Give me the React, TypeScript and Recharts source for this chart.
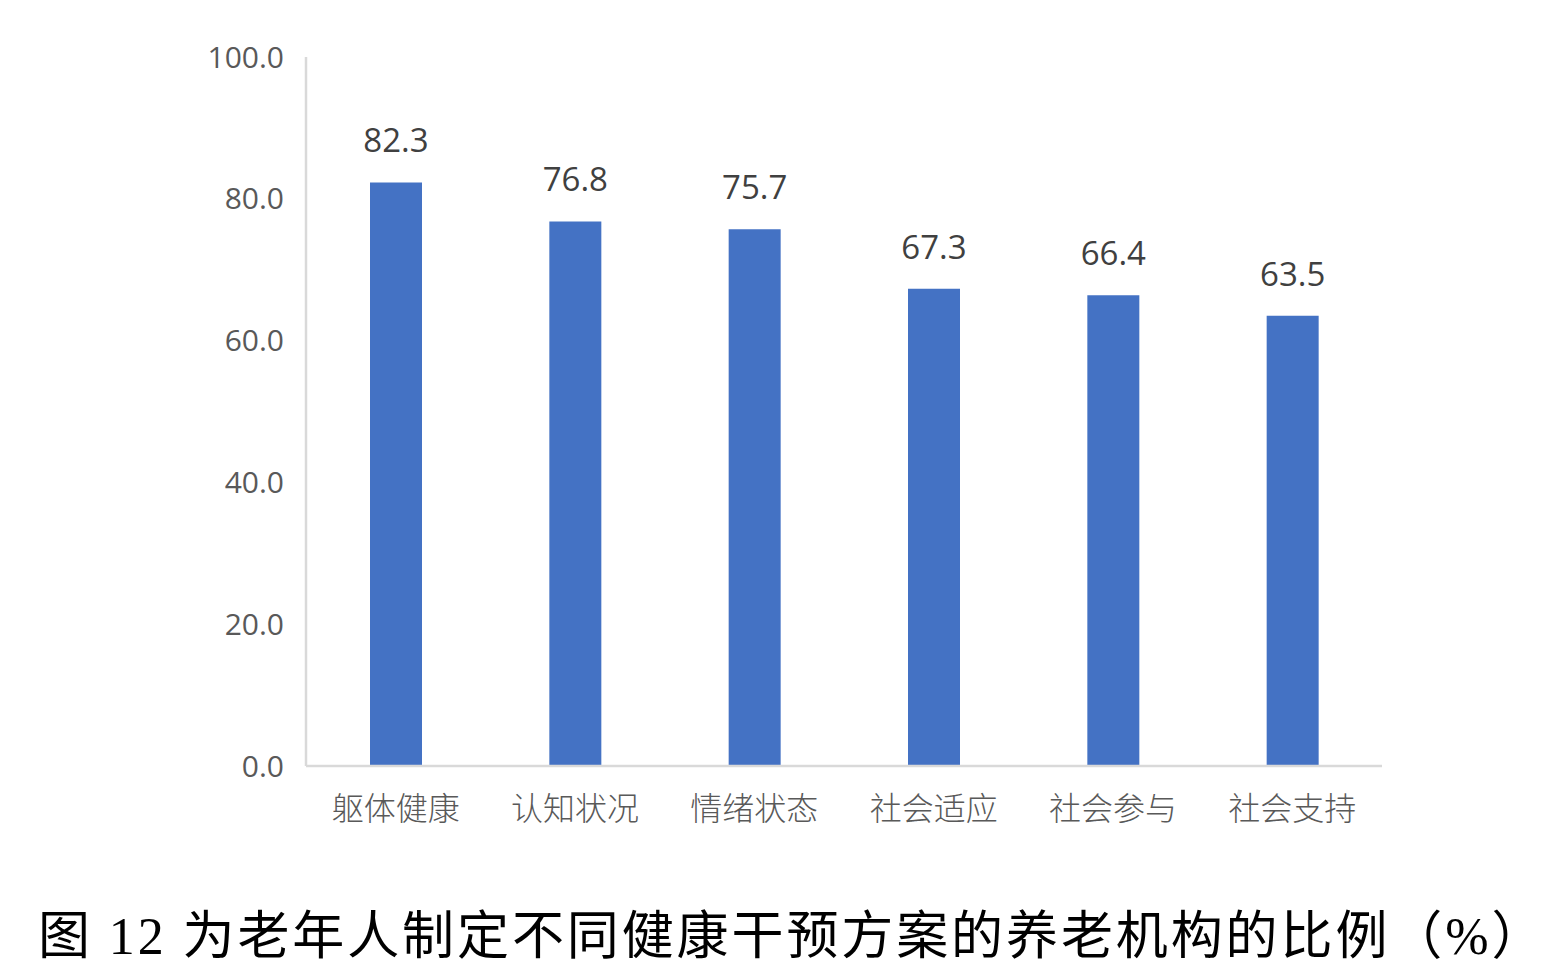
import { Bar, BarChart, LabelList, XAxis, YAxis } from "recharts";

const categories = ["躯体健康", "认知状况", "情绪状态", "社会适应", "社会参与", "社会支持"];
const shares = [82.3, 76.8, 75.7, 67.3, 66.4, 63.5];
const yTicks = [0, 20, 40, 60, 80, 100];
const title = "图 12 为老年人制定不同健康干预方案的养老机构的比例（%）";

const data = categories.map((name, i) => ({ name, value: shares[i] }));

export default function App() {
  return (
    <div style={{ position: "absolute", left: 0, top: 0, width: 1551, height: 970, background: "#fff", overflow: "hidden" }}>
      <BarChart width={1551} height={880} data={data} margin={{ top: 57, right: 169, bottom: 54, left: 0 }} barSize={52}>
        <XAxis
          dataKey="name"
          height={60}
          tickLine={false}
          axisLine={{ stroke: "#d9d9d9", strokeWidth: 2.5 }}
          tickMargin={25}
          tick={{ fill: "#595959", fontSize: 32, fontFamily: "Noto Sans CJK SC", fontWeight: 300 }}
        />
        <YAxis
          width={306}
          domain={[0, 100]}
          ticks={yTicks}
          interval={0}
          tickLine={false}
          axisLine={{ stroke: "#d9d9d9", strokeWidth: 2.5 }}
          tickMargin={16}
          tickFormatter={(v: number) => v.toFixed(1)}
          tick={{ fill: "#595959", fontSize: 30, fontFamily: "Open Sans" }}
        />
        <Bar dataKey="value" fill="#4472c4" isAnimationActive={false}>
          <LabelList
            dataKey="value"
            position="top"
            offset={30}
            formatter={(v: number) => v.toFixed(1)}
            style={{ fill: "#404040", fontSize: 33, fontFamily: "Open Sans" }}
          />
        </Bar>
      </BarChart>
      <div
        style={{
          position: "absolute",
          left: 38,
          top: 905,
          fontSize: 52,
          lineHeight: "64px",
          letterSpacing: 2.9,
          whiteSpace: "nowrap",
          color: "#000",
          fontFamily: "'Liberation Serif', 'Noto Sans CJK SC'",
        }}
      >
        {title}
      </div>
    </div>
  );
}
